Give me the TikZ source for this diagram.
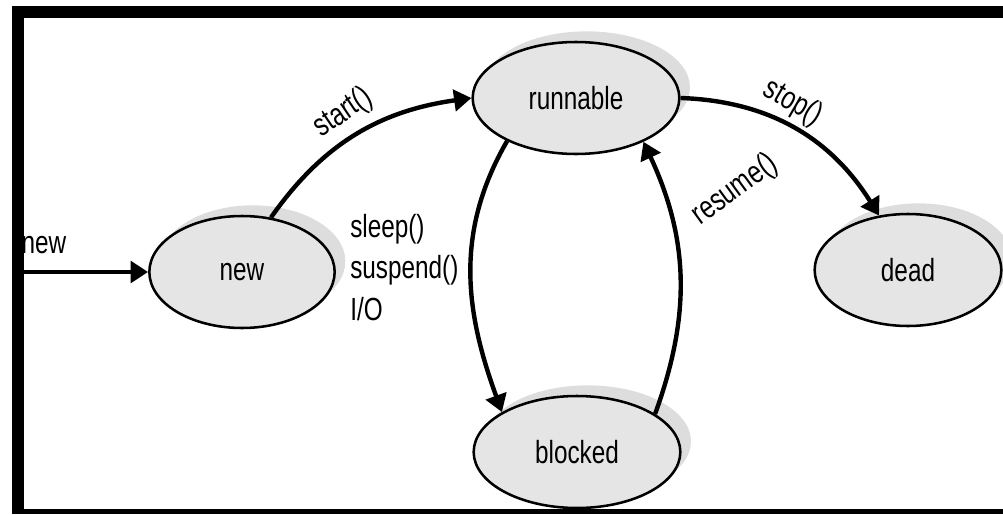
\documentclass[tikz,border=0pt]{standalone}
\usepackage{fontspec}
\setmainfont{Liberation Sans}[FakeStretch=0.76]
\usetikzlibrary{arrows.meta}
\usetikzlibrary{shapes.geometric}
\usetikzlibrary{shadows}

\begin{document}
\begin{tikzpicture}[x=0.75pt, y=0.75pt,
    procstate/.style={ellipse, draw=black, line width=1.9pt, fill=gray!20,
        inner sep=0pt, minimum height=84pt, font=\fontsize{24}{31}\selectfont,
        drop shadow={shadow xshift=8pt, shadow yshift=8pt, fill=gray!27, opacity=1}},
    trans/.style={line width=3.3pt, -{Triangle[length=13pt,width=16pt]}},
    lbl/.style={font=\fontsize{24}{31}\selectfont, inner sep=0pt}]
    \useasboundingbox (0,0) rectangle (1003,-514);

    % states
    \node[procstate, minimum width=139pt] (new) at (242,-272) {new};
    \node[procstate, minimum width=155pt] (runnable) at (576,-98) {runnable};
    \node[procstate, minimum width=155pt] (blocked) at (577,-452) {blocked};
    \node[procstate, minimum width=140pt] (dead) at (908,-270) {dead};

    % transitions
    \coordinate (entry) at (18,-272);
    \draw[trans] (entry) -- (new.west);
    \node[lbl] (newlbl) at (44,-245) {new};

    \draw[trans] (new.62) to[out=55, in=188] (runnable.west);
    \node[lbl, rotate=34] (startlbl) at (343,-113) {start()};

    \draw[trans] (runnable.east) to[out=-2, in=122] (dead.118);
    \node[lbl, rotate=-30] (stoplbl) at (793,-103) {stop()};

    \draw[trans] (runnable.212) to[out=240, in=110] (blocked.152);
    \node[lbl, align=left, anchor=north west] (sleeplbl) at (350,-214) {sleep()\\suspend()\\I/O};

    \draw[trans] (blocked.26) to[out=70, in=-65] (runnable.-33);
    \node[lbl, rotate=36] (resumelbl) at (735,-190) {resume()};

    % frame
    \fill[black] (12,-6) rectangle (1003,-18);
    \fill[black] (12,-6) rectangle (24,-514);
    \fill[black] (12,-509) rectangle (1003,-514);
\end{tikzpicture}
\end{document}
